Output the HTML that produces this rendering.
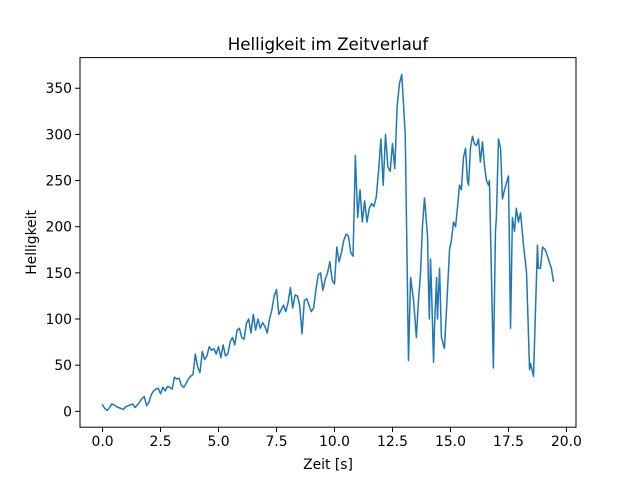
<!DOCTYPE html>
<html><head><meta charset="utf-8"><style>
body{margin:0;background:#fff}
svg{display:block;font-family:"DejaVu Sans","Liberation Sans",sans-serif}
</style></head><body>
<svg id="chart" width="640" height="480">
<rect width="640" height="480" fill="#fff"/>
<g id="plot"></g>
</svg>
<script>
const firstValues=[7,3,1,4,8,7,5,4,3,2,5,6,7,8,4,7,10,14,16,6,10,18,22,24,25,19,26,22,27,26,24,37,35,36,28,26,30,35,38,40,62,48,42,65,56,60,70,66,68,62,70,58,72,60,62,75,80,72,88,90,80,78,95,100,85,105,88,100,90,96,92,85,100,110,125,132,105,110,115,108,118,134,112,126,125,115,84,120,122,115,108,112,132,148,150,131,143,150,162,142,138,178,162,172,185,192,190,172,168,277,210,240,205,228,205,220,225,222,232,260,295,245,300,265,260,290,263,330,355,365];
const laterTimes=[13.05,13.19,13.28,13.41,13.53,13.62,13.71,13.79,13.88,14.01,14.05,14.09,14.14,14.18,14.27,14.31,14.40,14.44,14.53,14.61,14.74,14.87,14.96,15.04,15.13,15.22,15.30,15.39,15.47,15.56,15.65,15.73,15.78,15.86,15.95,16.03,16.12,16.21,16.29,16.38,16.47,16.55,16.64,16.68,16.85,16.94,16.98,17.07,17.16,17.24,17.33,17.50,17.59,17.67,17.76,17.84,17.93,18.02,18.15,18.28,18.41,18.45,18.58,18.75,18.79,18.88,18.97,19.09,19.22,19.35,19.44];
const laterValues=[300,55,145,120,80,120,150,200,231,190,140,100,165,135,53,90,145,100,155,80,68,130,175,185,205,200,220,245,240,275,285,250,245,285,298,290,288,295,270,292,265,250,245,250,47,195,210,295,285,230,240,255,90,210,195,220,205,215,180,150,45,52,38,180,155,155,178,175,165,155,141];
const xTicks=[0,2.5,5,7.5,10,12.5,15,17.5,20];
const xTickLabels=["0.0","2.5","5.0","7.5","10.0","12.5","15.0","17.5","20.0"];
const yTicks=[0,50,100,150,200,250,300,350];
const yTickLabels=["0","50","100","150","200","250","300","350"];

const firstTimes=firstValues.map((v,i)=>i/10);
const times=firstTimes.concat(laterTimes);
const values=firstValues.concat(laterValues);

const L=80,R=576,T=57.6,B=427.2;
const tMin=Math.min(...times),tMax=Math.max(...times);
const vMin=Math.min(...values),vMax=Math.max(...values);
const xm=(tMax-tMin)*0.05,ym=(vMax-vMin)*0.05;
const X=t=>L+(t-(tMin-xm))/((tMax+xm)-(tMin-xm))*(R-L);
const Y=v=>B-(v-(vMin-ym))/((vMax+ym)-(vMin-ym))*(B-T);
const NS="http://www.w3.org/2000/svg";
const g=document.getElementById('plot');
function mk(tag,attrs,parent){const e=document.createElementNS(NS,tag);for(const k in attrs)e.setAttribute(k,attrs[k]);(parent||g).appendChild(e);return e;}

const line=mk('polyline',{points:times.map((t,i)=>X(t).toFixed(2)+','+Y(values[i]).toFixed(2)).join(' '),fill:'none',stroke:'#1f77b4','stroke-width':1.5,'stroke-linejoin':'round','stroke-linecap':'square'});



const frame=mk('rect',{x:L,y:T,width:R-L,height:B-T,fill:'none',stroke:'#000','stroke-width':1});



xTicks.forEach((t,i)=>{
  const x=X(t);
  const tk=mk('line',{x1:x,x2:x,y1:B,y2:B+4.9,stroke:'#000','stroke-width':1});
  
  
  const lb=mk('text',{x:x,y:B+19,'text-anchor':'middle','font-size':'13.9px',fill:'#000'});
  lb.textContent=xTickLabels[i];
  
  
});
yTicks.forEach((v,i)=>{
  const y=Y(v);
  const tk=mk('line',{x1:L-4.9,x2:L,y1:y,y2:y,stroke:'#000','stroke-width':1});
  
  
  const lb=mk('text',{x:L-8,y:y+5,'text-anchor':'end','font-size':'13.9px',fill:'#000'});
  lb.textContent=yTickLabels[i];
  
  
});
const title=mk('text',{x:(L+R)/2,y:50,'text-anchor':'middle','font-size':'16.7px',fill:'#000'});
title.textContent='Helligkeit im Zeitverlauf';


const xt=mk('text',{x:(L+R)/2,y:469,'text-anchor':'middle','font-size':'13.9px',fill:'#000'});
xt.textContent='Zeit [s]';


const yt=mk('text',{x:0,y:0,'text-anchor':'middle','font-size':'13.9px',fill:'#000',transform:'translate(36,'+((T+B)/2)+') rotate(-90)'});
yt.textContent='Helligkeit';


</script>
</body></html>
